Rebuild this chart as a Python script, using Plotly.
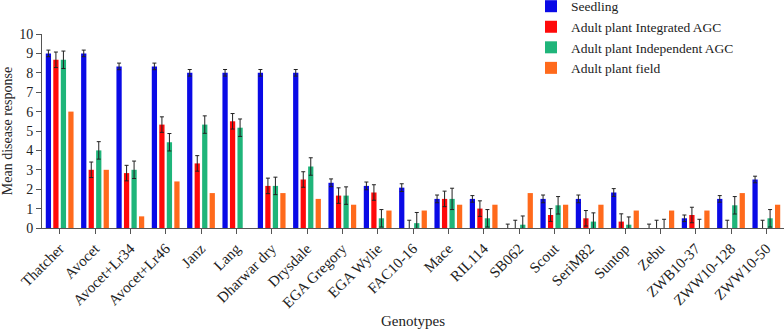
import plotly.graph_objects as go

genotypes = ["Thatcher", "Avocet", "Avocet+Lr34", "Avocet+Lr46", "Janz", "Lang",
             "Dharwar dry", "Drysdale", "EGA Gregory", "EGA Wylie", "FAC10-16",
             "Mace", "RIL114", "SB062", "Scout", "SeriM82", "Suntop", "Zebu",
             "ZWB10-37", "ZWW10-128", "ZWW10-50"]

seedling = [9.0, 9.0, 8.33, 8.33, 8.0, 8.0, 8.0, 8.0, 2.33, 2.17, 2.08,
            1.5, 1.5, 0.0, 1.5, 1.5, 1.83, 0.0, 0.5, 1.5, 2.5]
seedling_err = [0.17, 0.17, 0.17, 0.17, 0.17, 0.17, 0.17, 0.17, 0.2, 0.2, 0.2,
                0.2, 0.17, 0.2, 0.2, 0.2, 0.2, 0.2, 0.17, 0.17, 0.17]

integrated = [8.67, 3.0, 2.83, 5.33, 3.33, 5.5, 2.17, 2.5, 1.67, 1.83, 0.0,
              1.5, 1.0, 0.0, 0.67, 0.5, 0.33, 0.0, 0.67, 0.0, 0.0]
integrated_err = [0.4, 0.4, 0.4, 0.4, 0.4, 0.4, 0.4, 0.4, 0.4, 0.4, 0.4,
                  0.4, 0.4, 0.4, 0.33, 0.4, 0.4, 0.4, 0.4, 0.4, 0.4]

independent = [8.67, 4.0, 3.0, 4.42, 5.33, 5.17, 2.17, 3.17, 1.67, 0.5, 0.25,
               1.5, 0.5, 0.17, 1.17, 0.33, 0.17, 0.0, 0.0, 1.17, 0.5]
independent_err = [0.45, 0.45, 0.45, 0.45, 0.45, 0.45, 0.45, 0.45, 0.45, 0.45, 0.55,
                   0.55, 0.45, 0.45, 0.45, 0.45, 0.4, 0.45, 0.45, 0.45, 0.45]

field = [6.0, 3.0, 0.6, 2.4, 1.8, 0.0, 1.8, 1.5, 1.2, 0.9, 0.9,
         1.2, 1.2, 1.8, 1.2, 1.2, 0.9, 0.9, 0.9, 1.8, 1.2]

series = [
    ("Seedling", seedling, seedling_err, "#0a0ae6"),
    ("Adult plant Integrated AGC", integrated, integrated_err, "#ff0a0a"),
    ("Adult plant Independent AGC", independent, independent_err, "#1fb57a"),
    ("Adult plant field", field, None, "#ff6a1c"),
]

FONT = "Liberation Serif, Times New Roman, serif"

fig = go.Figure()
for name, vals, err, col in series:
    kw = {}
    if err is not None:
        kw["error_y"] = dict(type="data", array=err, visible=True,
                             color="#222222", thickness=1, width=2)
    fig.add_trace(go.Bar(name=name, x=genotypes, y=vals, marker_color=col,
                         marker_line_width=0, **kw))

fig.update_layout(
    template="none",
    width=784, height=329,
    margin=dict(l=42, r=0, t=34, b=101, autoexpand=False),
    paper_bgcolor="white", plot_bgcolor="white",
    barmode="group", bargap=0.15, bargroupgap=0.3,
    font=dict(family=FONT, size=14, color="#222222"),
    legend=dict(x=0.659, y=1.222, xanchor="left", yanchor="top",
                bgcolor="rgba(0,0,0,0)", font=dict(size=13.5),
                tracegroupgap=0, itemwidth=30),
    showlegend=True,
)
fig.update_xaxes(
    automargin=False,
    showline=True, linecolor="#555555", linewidth=1, showgrid=False,
    ticks="outside", ticklen=5, tickcolor="#555555",
    tickangle=-45, tickfont=dict(size=15),
    title=dict(text="Genotypes", font=dict(size=15), standoff=14),
    range=[-0.5, 20.5],
)
fig.update_yaxes(
    automargin=False,
    range=[0, 10], dtick=1, showgrid=False, zeroline=False,
    showline=True, linecolor="#555555", linewidth=1,
    ticks="outside", ticklen=5, tickcolor="#555555",
    tickfont=dict(size=14),
    title=dict(text="Mean disease response", font=dict(size=14), standoff=6),
)

fig.write_html("out.html", config={"displayModeBar": False},
               post_script="document.body.style.margin='0';")
